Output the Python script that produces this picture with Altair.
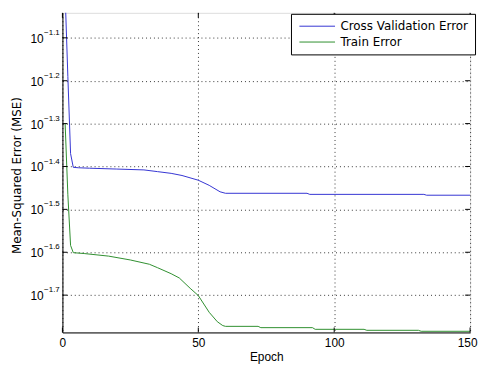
import altair as alt
import pandas as pd

# ---- data ----
series_names = ["Cross Validation Error", "Train Error"]
series_colors = ["#3535d2", "#2f8f2f"]

cv_epoch = [1, 2, 3, 4, 6, 10, 20, 30, 35, 40, 44, 50, 54, 58, 60, 90, 91, 133, 134, 150]
cv_mse = [0.1000, 0.064565, 0.042658, 0.039628, 0.039537, 0.039446, 0.039265, 0.039084,
          0.038726, 0.038371, 0.037933, 0.036983, 0.035975, 0.034754, 0.034475, 0.034475,
          0.034277, 0.034277, 0.034120, 0.034120]

train_epoch = [1, 2, 3, 4, 8, 17, 25, 32, 35, 40, 43, 47, 50, 54, 57, 59, 60, 72, 73, 92,
               93, 111, 112, 131, 132, 150]
train_mse = [0.050119, 0.034198, 0.026062, 0.025061, 0.024946, 0.024604, 0.024099, 0.023551,
             0.023121, 0.022387, 0.021878, 0.020702, 0.019907, 0.018197, 0.017298, 0.016944,
             0.016874, 0.016874, 0.016757, 0.016757, 0.016607, 0.016607, 0.016520, 0.016520,
             0.016433, 0.016433]

x_ticks = [0, 50, 100, 150]
y_tick_vals = [0.079433, 0.063096, 0.050119, 0.039811, 0.031623, 0.025119, 0.019953]
y_tick_exp = ["−1.1", "−1.2", "−1.3", "−1.4", "−1.5", "−1.6", "−1.7"]

x_domain = [0, 150]
y_domain = [0.016331, 0.090843]

W, H = 412, 323
FONT = "Liberation Sans"
WIDE = "DejaVu Sans"

lines_df = pd.concat([
    pd.DataFrame({"epoch": cv_epoch, "mse": cv_mse, "series": series_names[0]}),
    pd.DataFrame({"epoch": train_epoch, "mse": train_mse, "series": series_names[1]}),
])
xt_df = pd.DataFrame({"epoch": x_ticks})
yt_df = pd.DataFrame({"mse": y_tick_vals, "e": y_tick_exp})

xscale = alt.Scale(domain=x_domain, nice=False, zero=False)
yscale = alt.Scale(type="log", domain=y_domain, nice=False)

x_axis = alt.Axis(values=x_ticks, title="Epoch", ticks=False, domain=True, domainColor="black",
                  grid=True, gridDash=[1, 3], gridColor="#222", gridOpacity=0.9,
                  labelFontSize=12, labelPadding=5, labelFlush=False, labelOverlap=False,
                  labelOffset={"condition": {"test": "datum.value == 150", "value": -3},
                               "value": 0},
                  titleFontSize=12, titleFont=FONT,
                  titleFontWeight="normal", titlePadding=3, format="d")
y_axis = alt.Axis(values=y_tick_vals, labels=False, ticks=False, domain=True,
                  domainColor="black",
                  grid=True, gridDash=[1, 3], gridColor="#222", gridOpacity=0.9,
                  title="Mean-Squared Error (MSE)", titleFontSize=12, titleFont=WIDE,
                  titleFontWeight="normal", titleAngle=-90, titleX=-46,
                  titleY=164, titleAlign="center", titleBaseline="middle")

X = alt.X("epoch:Q", scale=xscale, axis=x_axis)
Y = alt.Y("mse:Q", scale=yscale, axis=y_axis)

lines = alt.Chart(lines_df).mark_line(strokeWidth=1, clip=True).encode(
    x=X, y=Y,
    color=alt.Color("series:N", scale=alt.Scale(domain=series_names, range=series_colors),
                    legend=alt.Legend(orient="none", legendX=231, legendY=1, title=None,
                                      strokeColor="black", fillColor="white", padding=6,
                                      symbolType="M-3,0H3", symbolSize=144,
                                      symbolOffset=14,
                                      symbolStrokeWidth=1, labelFontSize=12, labelFont=WIDE,
                                      labelOffset=17, labelLimit=400, rowPadding=3,
                                      cornerRadius=0)),
)

# inward tick marks (MATLAB style) on all four sides
xt_bottom = alt.Chart(xt_df).mark_rule(color="black", strokeWidth=1).encode(
    x=X, y=alt.value(H), y2=alt.value(H - 5))
xt_top = alt.Chart(xt_df).mark_rule(color="black", strokeWidth=1).encode(
    x=X, y=alt.value(0), y2=alt.value(5))
yt_left = alt.Chart(yt_df).mark_rule(color="black", strokeWidth=1).encode(
    y=Y, x=alt.value(0), x2=alt.value(5))
yt_right = alt.Chart(yt_df).mark_rule(color="black", strokeWidth=1).encode(
    y=Y, x=alt.value(W - 5), x2=alt.value(W))

# y tick labels as base "10" plus superscript exponent
lab_base = alt.Chart(yt_df).mark_text(align="right", baseline="middle", fontSize=12,
                                      font=FONT, color="black", dy=1).encode(
    y=Y, x=alt.value(-19), text=alt.value("10"))
lab_exp = alt.Chart(yt_df).mark_text(align="left", baseline="middle", fontSize=8,
                                     font=FONT, color="black", dy=-5).encode(
    y=Y, x=alt.value(-18.5), text="e:N")

chart = alt.layer(lines, xt_bottom, xt_top, yt_left, yt_right, lab_base, lab_exp).properties(
    width=W, height=H,
    autosize=alt.AutoSizeParams(type="none"),
    padding={"left": 55, "top": 3, "right": 8, "bottom": 30},
).configure_view(stroke="black", strokeWidth=1).configure_axis(
    labelFont=FONT, labelColor="black", titleColor="black"
).configure(background="white")

chart.save("out.html", embed_options={"renderer": "svg", "actions": False})
